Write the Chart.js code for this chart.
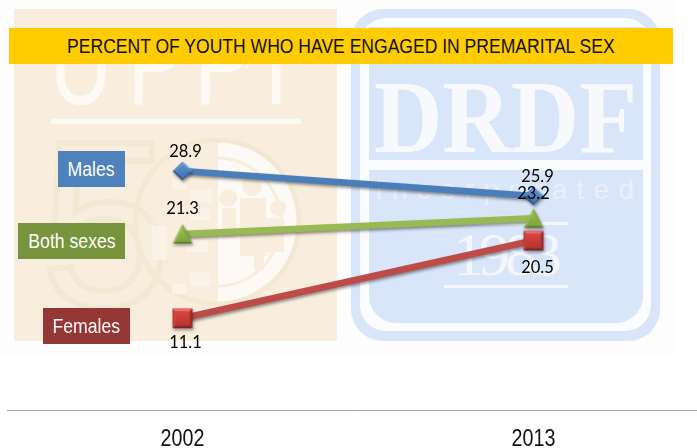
<!DOCTYPE html>
<html>
<head>
<meta charset="utf-8">
<title>Percent of youth who have engaged in premarital sex</title>
<script src="https://cdn.jsdelivr.net/npm/chart.js@4"></script>
<style>
  html, body { margin: 0; padding: 0; background: #fff; }
  #stage { position: relative; width: 697px; height: 448px; overflow: hidden; }
  #wash, #chart, .tag, #band { position: absolute; }
  #wash { left: 0; top: 0; }
  #chart { left: 0; top: 0; }
  #band {
    left: 9px; top: 28px; width: 664px; height: 36px;
    background: #ffcc00; color: #111; text-align: center; white-space: nowrap;
    font: 21px/36px "Liberation Sans", sans-serif;
  }
  #band span { display: inline-block; transform: scaleX(0.835); }
  .tag {
    height: 36px; color: #fff; text-align: center; white-space: nowrap;
    font: 21px/36px "Liberation Sans", sans-serif;
  }
  .tag span { display: inline-block; transform: scaleX(0.84); }
  #tag-0 { left: 58px;  top: 151px; width: 67px; background: #4f81bd; }
  #tag-1 { left: 18px;  top: 223px; width: 107px; background: #77933c; }
  #tag-2 { left: 43px;  top: 308px; width: 87px; background: #953735; }
</style>
</head>
<body>
<div id="stage">
  <svg id="wash" width="697" height="448" xmlns="http://www.w3.org/2000/svg">
    <defs><clipPath id="under-band"><rect x="14" y="40" width="323" height="80"/></clipPath></defs>
    <rect x="0" y="0" width="675" height="356" fill="#fdfdfd"/>

    <!-- left logo, washed out -->
    <rect x="14" y="9" width="323" height="332" fill="#f9eddd"/>
    <g clip-path="url(#under-band)">
      <text transform="translate(0,104) scale(0.72,1)" x="69 177 270 367" y="0" font-family="Liberation Sans" font-size="120" fill="#fdf9f5">UPPI</text>
    </g>
    <rect x="51" y="119" width="250" height="5" fill="#fdf9f5"/>
    <text x="40" y="306" font-family="Liberation Sans" font-size="236" fill="none" stroke="#f2e9d2" stroke-width="6">5</text>
    <path d="M218 139 A83 83 0 0 1 218 305 Z" fill="#fdf9f4"/>
    <circle cx="217" cy="222" r="82" fill="none" stroke="#f3e9d3" stroke-width="5"/>
    <circle cx="217" cy="222" r="64" fill="none" stroke="#f6eddc" stroke-width="3"/>
    <g fill="#f9eddd">
      <circle cx="228" cy="198" r="9"/><circle cx="252" cy="186" r="10"/><circle cx="278" cy="208" r="8"/>
      <rect x="240" y="198" width="26" height="58"/><rect x="222" y="208" width="14" height="30"/><rect x="266" y="218" width="18" height="34"/>
      <rect x="254" y="256" width="10" height="14"/>
    </g>
    <g fill="#fbf3e7">
      <rect x="190" y="190" width="22" height="12"/><rect x="172" y="180" width="14" height="10"/><rect x="190" y="208" width="20" height="12"/>
      <rect x="152" y="226" width="14" height="34"/><rect x="186" y="240" width="22" height="12"/><rect x="190" y="272" width="20" height="14"/>
      <rect x="172" y="284" width="14" height="10"/>
    </g>

    <!-- right logo, washed out -->
    <rect x="351" y="9" width="309" height="332" rx="32" fill="#d9e5f9"/>
    <rect x="360" y="18" width="291" height="313" rx="26" fill="#fbfcfe"/>
    <rect x="369" y="27" width="274" height="133" fill="#d9e5f9"/>
    <path d="M369 170 H643 V296 A27 27 0 0 1 616 323 H396 A27 27 0 0 1 369 296 Z" fill="#d9e5f9"/>
    <text x="374" y="152" font-family="Liberation Serif" font-weight="bold" font-size="104" fill="#f7f9fd" textLength="263" lengthAdjust="spacingAndGlyphs">DRDF</text>
    <text x="375" y="199" font-family="Liberation Sans" font-size="28" fill="#eaf0fb" textLength="259" lengthAdjust="spacing">Incorporated</text>
    <rect x="444" y="222" width="124" height="3" fill="#f3f6fc"/>
    <text x="453" y="275" font-family="Liberation Serif" font-size="62" fill="#f3f6fc" textLength="109" lengthAdjust="spacing">1983</text>
    <rect x="444" y="285" width="124" height="3" fill="#f3f6fc"/>
  </svg>

  <canvas id="chart" width="709" height="448"></canvas>

  <div id="band"><span></span></div>
  <div class="tag" id="tag-0"><span></span></div>
  <div class="tag" id="tag-1"><span></span></div>
  <div class="tag" id="tag-2"><span></span></div>
</div>

<script>
(function () {
  'use strict';

  const TITLE    = 'PERCENT OF YOUTH WHO HAVE ENGAGED IN PREMARITAL SEX';
  const YEARS    = ['2002', '2013'];
  const NAMES    = ['Males', 'Both sexes', 'Females'];
  const MALES    = [28.9, 25.9];
  const BOTH     = [21.3, 23.2];
  const FEMALES  = [11.1, 20.5];

  const Y_MAX = 49.6;

  // where each value label sits relative to its marker, per series then per year
  const LABEL_NUDGE = [
    [[3, -19], [4, -19]],
    [[0, -25], [0, -25]],
    [[3, 24], [4, 27]],
  ];

  // bevelled marker painted once, handed to Chart.js as a pointStyle
  function marker(outline, edges, top, bottom) {
    const c = document.createElement('canvas');
    c.width = 26;
    c.height = 26;
    const g = c.getContext('2d');
    const cx = outline.reduce((a, p) => a + p[0], 0) / outline.length;
    const cy = outline.reduce((a, p) => a + p[1], 0) / outline.length;
    const inner = outline.map(p => [cx + (p[0] - cx) * 0.72, cy + (p[1] - cy) * 0.72]);

    outline.forEach((p, i) => {
      const q = outline[(i + 1) % outline.length];
      const r = inner[(i + 1) % outline.length];
      const s = inner[i];
      g.beginPath();
      g.moveTo(p[0], p[1]);
      g.lineTo(q[0], q[1]);
      g.lineTo(r[0], r[1]);
      g.lineTo(s[0], s[1]);
      g.closePath();
      g.fillStyle = edges[i];
      g.fill();
    });

    const face = g.createLinearGradient(0, 3, 0, 23);
    face.addColorStop(0, top);
    face.addColorStop(1, bottom);
    g.beginPath();
    inner.forEach((p, i) => (i ? g.lineTo(p[0], p[1]) : g.moveTo(p[0], p[1])));
    g.closePath();
    g.fillStyle = face;
    g.fill();
    return c;
  }

  const DIAMOND = marker(
    [[13, 3.5], [23, 13], [13, 22.5], [3, 13]],
    ['#5f97d8', '#3a689f', '#2d5485', '#5488c6'],
    '#5d97dc', '#3c6ea8'
  );
  const TRIANGLE = marker(
    [[13, 3], [23, 22.5], [3, 22.5]],
    ['#7fa63c', '#5c7a2a', '#99c350'],
    '#9cc653', '#78a237'
  );
  const SQUARE = marker(
    [[3, 3], [23, 3], [23, 23], [3, 23]],
    ['#f26a66', '#9c2a28', '#85211f', '#c73c39'],
    '#e04a47', '#b52f2c'
  );

  const softShadow = {
    id: 'softShadow',
    beforeDatasetDraw(chart) {
      const ctx = chart.ctx;
      ctx.save();
      ctx.shadowColor = 'rgba(40,40,40,0.5)';
      ctx.shadowBlur = 3;
      ctx.shadowOffsetX = 1;
      ctx.shadowOffsetY = 2;
    },
    afterDatasetDraw(chart) {
      chart.ctx.restore();
    },
  };

  const valueLabels = {
    id: 'valueLabels',
    afterDatasetsDraw(chart) {
      const ctx = chart.ctx;
      ctx.save();
      ctx.font = '16.5px Lato, "Open Sans", sans-serif';
      ctx.fillStyle = '#000';
      ctx.textAlign = 'center';
      ctx.textBaseline = 'middle';
      chart.data.datasets.forEach((ds, i) => {
        chart.getDatasetMeta(i).data.forEach((pt, j) => {
          const n = LABEL_NUDGE[i][j];
          ctx.fillText(ds.data[j].toFixed(1), pt.x + n[0], pt.y + n[1]);
        });
      });
      ctx.restore();
    },
  };

  // no condensed face is installed, so the year labels are squeezed by hand
  const yearLabels = {
    id: 'yearLabels',
    afterDraw(chart) {
      const ctx = chart.ctx;
      const xs = chart.scales.x;
      ctx.save();
      ctx.font = '24px "Liberation Sans", sans-serif';
      ctx.fillStyle = '#111';
      ctx.textAlign = 'center';
      ctx.textBaseline = 'alphabetic';
      YEARS.forEach((y, i) => {
        ctx.save();
        ctx.translate(xs.getPixelForTick(i), 446);
        ctx.scale(0.82, 1);
        ctx.fillText(y, 0, 0);
        ctx.restore();
      });
      ctx.restore();
    },
  };

  function series(label, data, color, style) {
    return {
      label,
      data,
      borderColor: color,
      borderWidth: 6.5,
      tension: 0,
      pointStyle: style,
      pointRadius: 10,
      borderCapStyle: 'butt',
      clip: false,
    };
  }

  document.querySelector('#band span').textContent = TITLE;
  NAMES.forEach((n, i) => { document.querySelector('#tag-' + i + ' span').textContent = n; });

  new Chart(document.getElementById('chart'), {
    type: 'line',
    data: {
      labels: YEARS,
      datasets: [
        series(NAMES[0], MALES, '#4a7ebb', DIAMOND),
        series(NAMES[1], BOTH, '#98b954', TRIANGLE),
        series(NAMES[2], FEMALES, '#be4b48', SQUARE),
      ],
    },
    options: {
      responsive: false,
      animation: false,
      devicePixelRatio: 1,
      layout: { autoPadding: false, padding: { left: 7, right: 0, top: 0, bottom: 0 } },
      plugins: { legend: { display: false }, tooltip: { enabled: false } },
      scales: {
        x: {
          offset: true,
          afterFit(scale) { scale.height = 38; },
          grid: { display: false, drawTicks: false },
          border: { color: '#a6a6a6', width: 1 },
          ticks: { display: false },
        },
        y: { display: false, min: 0, max: Y_MAX },
      },
    },
    plugins: [softShadow, valueLabels, yearLabels],
  });
})();
</script>
</body>
</html>
